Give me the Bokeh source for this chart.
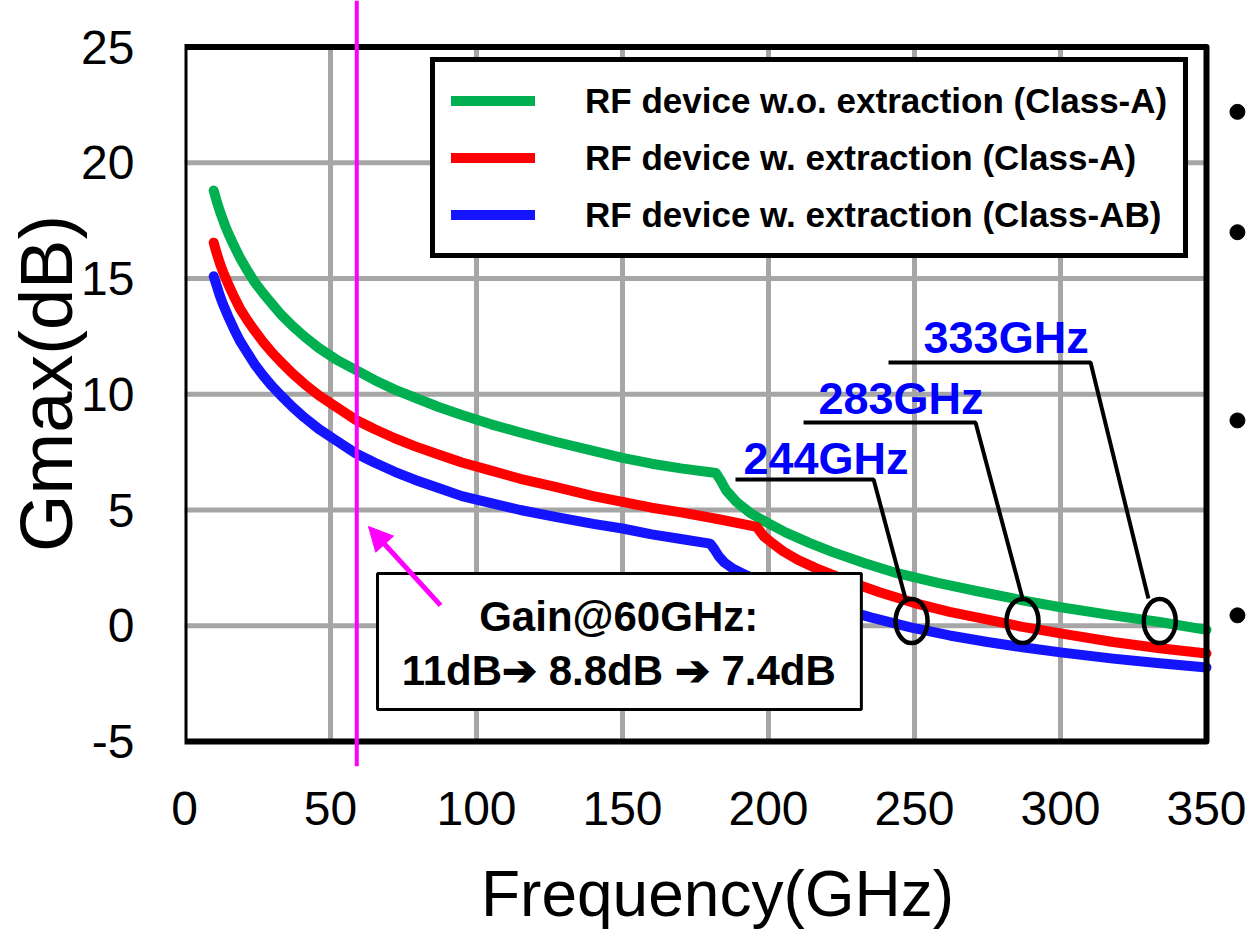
from bokeh.plotting import figure
from bokeh.models import Range1d, FixedTicker, Span, Arrow, NormalHead, Legend, LegendItem
from bokeh.core.properties import value
from bokeh.embed import file_html
from bokeh.resources import INLINE

# ---------------- data ----------------
x_ticks = [0, 50, 100, 150, 200, 250, 300, 350]
x_tick_labels = ["0", "50", "100", "150", "200", "250", "300", "350"]
y_ticks = [-5, 0, 5, 10, 15, 20, 25]
y_tick_labels = ["-5", "0", "5", "10", "15", "20", "25"]

# RF device w.o. extraction (Class-A)
f_green = [10, 11, 12, 13, 14, 15, 17, 19, 21.5, 24, 27, 30, 33, 37, 41, 46, 52, 58.6, 65, 72, 79, 87, 95,
           105, 115, 127, 140, 150, 160, 170, 182,
           183.5, 185.5, 189, 194, 200, 206, 214, 222, 233, 244, 258, 272, 287, 300, 318, 334, 350]
g_green = [18.8, 18.35, 17.95, 17.6, 17.25, 16.95, 16.4, 15.9, 15.35, 14.85, 14.35, 13.9, 13.45, 12.95, 12.5, 12.0,
           11.5, 11.05, 10.62, 10.2, 9.85, 9.45, 9.1, 8.7, 8.35, 7.95, 7.55, 7.25, 7.0, 6.8, 6.6,
           6.3, 5.85, 5.35, 4.85, 4.42, 4.02, 3.58, 3.18, 2.7, 2.27, 1.85, 1.48, 1.1, 0.8, 0.45, 0.16, -0.18]

# RF device w. extraction (Class-A)
f_red = [10, 11, 12, 13, 14, 15, 17, 19, 21.5, 24, 27, 30, 33, 37, 41, 46, 52, 58.6, 65, 72, 79, 87, 95,
         105, 115, 127, 140, 150, 160, 170, 183, 196,
         198.5, 201, 205, 210, 216, 222, 230, 238, 250, 262, 273, 287, 300, 318, 334, 350]
g_red = [16.55, 16.1, 15.7, 15.35, 15.05, 14.75, 14.2, 13.7, 13.2, 12.75, 12.25, 11.8, 11.4, 10.9, 10.45, 9.95,
         9.45, 8.9, 8.5, 8.1, 7.75, 7.4, 7.05, 6.7, 6.35, 6.0, 5.6, 5.35, 5.1, 4.9, 4.6, 4.27,
         3.85, 3.6, 3.22, 2.85, 2.5, 2.2, 1.8, 1.45, 0.98, 0.6, 0.32, -0.05, -0.33, -0.7, -0.97, -1.2]

# RF device w. extraction (Class-AB)
f_blue = [10, 11, 12, 13, 14, 15, 17, 19, 21.5, 24, 27, 30, 33, 37, 41, 46, 52, 58.6, 65, 72, 79, 87, 95,
          105, 115, 127, 140, 150, 160, 170, 180,
          181.5, 183, 185, 188, 192, 198, 205, 215, 225, 235, 249, 262, 275, 287, 300, 318, 334, 350]
g_blue = [15.1, 14.7, 14.3, 13.95, 13.65, 13.35, 12.8, 12.3, 11.8, 11.3, 10.8, 10.35, 9.95, 9.45, 9.0, 8.5,
          8.0, 7.45, 7.05, 6.65, 6.3, 5.95, 5.6, 5.3, 5.0, 4.7, 4.4, 4.2, 3.95, 3.75, 3.55,
          3.3, 3.0, 2.72, 2.45, 2.2, 1.9, 1.55, 1.1, 0.72, 0.36, -0.08, -0.42, -0.7, -0.93, -1.15, -1.42, -1.62, -1.8]

series_names = ["RF device w.o. extraction (Class-A)",
                "RF device w. extraction (Class-A)",
                "RF device w. extraction (Class-AB)"]
series_colors = ["#00b050", "#ff0000", "#1414ff"]

marker_freq = 59  # magenta 60 GHz marker line
callout_labels = ["244GHz", "283GHz", "333GHz"]
callout_circle_x = [249, 287, 334]
callout_circle_y = [0.2, 0.2, 0.2]
gain_text = ["Gain@60GHz:", "11dB\u2794 8.8dB \u2794 7.4dB"]

# ---------------- figure ----------------
FONT = "Liberation Sans"

p = figure(width=1250, height=944,
           x_range=Range1d(0, 365.07), y_range=Range1d(-6.08, 27.01),
           output_backend="svg", toolbar_location=None,
           min_border_left=184, min_border_right=0, min_border_top=0, min_border_bottom=178)
p.outline_line_color = None
p.grid.visible = False
p.background_fill_color = "white"
p.border_fill_color = "white"

for ax in (p.xaxis[0], p.yaxis[0]):
    ax.axis_line_color = None
    ax.major_tick_line_color = None
    ax.minor_tick_line_color = None
    ax.major_label_text_font = FONT
    ax.major_label_text_font_size = "48px"
    ax.major_label_text_color = "black"
    ax.axis_label_text_font = FONT
    ax.axis_label_text_font_style = "normal"
    ax.axis_label_text_color = "black"

p.xaxis.ticker = FixedTicker(ticks=x_ticks)
p.xaxis.major_label_overrides = dict(zip(x_ticks, x_tick_labels))
p.yaxis.ticker = FixedTicker(ticks=y_ticks)
p.yaxis.major_label_overrides = dict(zip(y_ticks, y_tick_labels))
p.xaxis.axis_label = "Frequency(GHz)"
p.yaxis.axis_label = "Gmax(dB)"
p.xaxis.axis_label_text_font_size = "64px"
p.yaxis.axis_label_text_font_size = "74px"
p.xaxis.major_label_standoff = 19
p.yaxis.major_label_standoff = 44
p.xaxis.axis_label_standoff = 30
p.yaxis.axis_label_standoff = -10

x0, x1 = x_ticks[0], x_ticks[-1]
y0, y1 = y_ticks[0], y_ticks[-1]

# grid lines (inside the box only)
gx = x_ticks[1:-1]
p.segment(x0=gx, y0=[y0] * len(gx), x1=gx, y1=[y1] * len(gx), line_color="#a6a6a6", line_width=5)
gy = y_ticks[1:-1]
p.segment(x0=[x0] * len(gy), y0=gy, x1=[x1] * len(gy), y1=gy, line_color="#a6a6a6", line_width=5)

# curves
renderers = []
for fx, gv, c in zip([f_green, f_red, f_blue], [g_green, g_red, g_blue], series_colors):
    renderers.append(p.line(fx, gv, line_color=c, line_width=10, line_cap="round", line_join="round"))

# plot box
p.quad(left=[x0], right=[x1], bottom=[y0], top=[y1], fill_color=None, line_color="black",
       line_width=6, line_join="round")

# magenta 60 GHz marker
p.add_layout(Span(location=marker_freq, dimension="height", line_color="#ff00ff", line_width=4))

# callouts
p.ellipse(x=callout_circle_x, y=callout_circle_y, width=32, height=44,
          width_units="screen", height_units="screen",
          fill_color=None, line_color="black", line_width=4.5)
lead_xs = [[188.7, 236.0, 246.9], [212.0, 270.9, 287.0], [241.1, 310.3, 330.1]]
lead_ys = [[6.32, 6.32, 1.18], [8.78, 8.78, 1.18], [11.37, 11.37, 1.18]]
p.multi_line(xs=lead_xs, ys=lead_ys, line_color="black", line_width=4)
p.text(x=[191.4, 217.1, 253.1], y=[7.24, 9.83, 12.47], text=callout_labels,
       text_font=value(FONT), text_font_style="bold", text_font_size="45px",
       text_color="#0000ff", text_baseline="middle", text_align="left")

# gain box
p.quad(left=[66.1], right=[231.8], bottom=[-3.62], top=[2.26], fill_color="white",
       line_color="black", line_width=3)
p.text(x=[148.7, 148.7], y=[0.42, -1.95], text=gain_text,
       text_font=value(FONT), text_font_style="bold", text_font_size="42px",
       text_color="black", text_baseline="middle", text_align="center")

# magenta arrow
p.add_layout(Arrow(end=NormalHead(size=24, fill_color="#ff00ff", line_color="#ff00ff"),
                   x_start=87.7, y_start=0.88, x_end=63.0, y_end=4.29,
                   line_color="#ff00ff", line_width=5))

# cut-off slide bullets on the right
p.scatter(x=[360.6] * 4, y=[22.2, 17.0, 8.87, 0.45], size=15, color="black")

# legend
legend = Legend(items=[LegendItem(label=n, renderers=[r]) for n, r in zip(series_names, renderers)],
                location=(246, 508), orientation="vertical",
                label_text_font=FONT, label_text_font_style="bold", label_text_font_size="35px",
                label_text_color="black", glyph_width=84, glyph_height=45, label_height=45,
                label_standoff=50, padding=16, spacing=12,
                border_line_color="black", border_line_width=5, border_line_alpha=1.0,
                background_fill_color="white", background_fill_alpha=1.0)
p.add_layout(legend)

open("out.html", "w").write(file_html(p, INLINE))
